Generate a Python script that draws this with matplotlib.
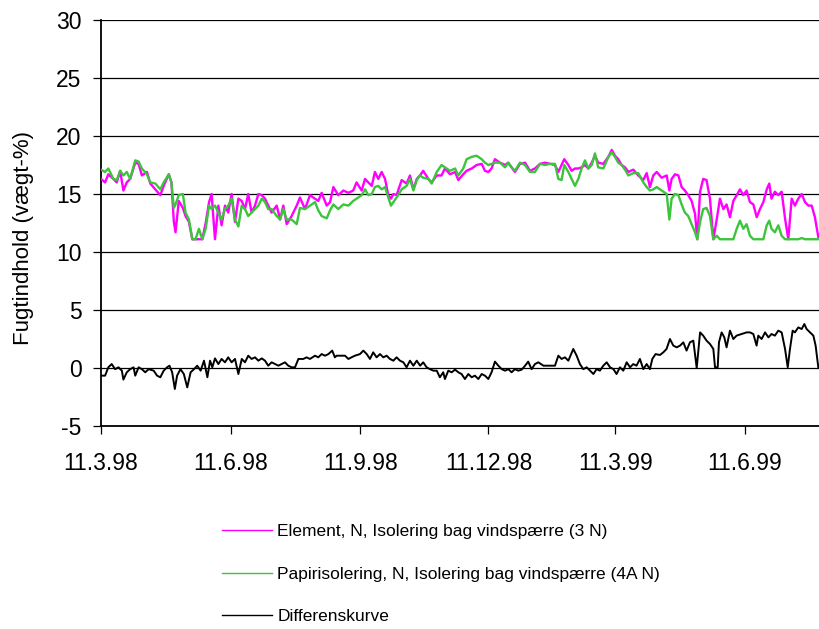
import numpy as np
import matplotlib
matplotlib.use("Agg")
import matplotlib.pyplot as plt
from matplotlib.lines import Line2D

plt.rcParams['font.family'] = ['Liberation Sans', 'DejaVu Sans']

# ---- data (days after 11.3.98) ----
days_mg = [0, 2.9, 5.2, 8.8, 11.2, 13.6, 15.9, 18.3, 20.7, 24.3, 26.7, 29.0, 32.6, 35.0, 38.6, 42.1,
           44.5, 48.1, 50.0, 51.7, 52.9, 55.2, 58.1, 60.0, 62.4, 64.8, 67.1, 69.5, 71.9, 74.3, 76.7,
           78.5, 80.9, 83.3, 85.6, 88.0, 90.3, 92.7, 95.1, 97.5, 99.9, 102.2, 104.5, 106.9, 109.3,
           111.7, 114.1, 116.4, 118.7, 121.1, 124.7, 127.1, 129.4, 131.8, 135.3, 138.9, 141.2, 144.8,
           148.3, 151.9, 154.2, 156.6, 160.2, 162.6, 164.9, 168.4, 172.0, 175.6, 179.0, 181.4, 185.0,
           187.4, 189.7, 192.2, 194.4, 196.8, 199.2, 201.6, 203.9, 205.8, 207.5, 209.8, 213.4, 216.9,
           219.3, 221.7, 224.1, 226.4, 228.7, 232.3, 234.7, 238.3, 241.7, 244.1, 247.7, 251.3, 253.6,
           257.1, 259.5, 263.1, 266.6, 270.2, 272.5, 274.9, 277.2, 279.6, 283.2, 286.8, 289.0, 291.4,
           293.8, 297.4, 301.0, 304.4, 308.0, 311.6, 315.1, 318.6, 322.2, 324.6, 326.9, 328.8, 331.7,
           334.0, 336.4, 338.8, 341.1, 343.5, 345.9, 348.3, 350.6, 352.9, 356.5, 360.1, 362.5, 364.8,
           367.1, 369.5, 371.9, 374.3, 377.8, 381.3, 384.9, 387.3, 389.6, 392.0, 394.4, 397.9, 401.5,
           403.4, 405.0, 407.4, 409.8, 412.1, 414.4, 416.8, 419.2, 421.6, 423.2, 425.2, 427.4, 429.8,
           432.2, 434.6, 437.0, 439.3, 441.7, 444.0, 446.4, 448.8, 451.2, 453.5, 455.9, 458.2, 460.6,
           463.0, 465.4, 467.7, 470.1, 472.5, 474.3, 475.9, 478.3, 480.7, 483.1, 485.5, 487.8, 490.2,
           492.5, 494.9, 497.3, 499.7, 502.0, 504.4, 506.7, 509.1]

element = [16.3, 16.0, 16.7, 16.3, 16.0, 17.0, 15.3, 16.0, 16.3, 17.7, 17.6, 16.6, 16.9, 15.9, 15.4, 14.9,
           15.7, 16.7, 16.0, 12.6, 11.7, 14.4, 13.8, 13.1, 12.6, 11.1, 11.1, 11.1, 11.1, 12.5, 14.3,
           15.0, 11.1, 14.0, 12.3, 14.0, 13.4, 15.0, 12.6, 14.6, 14.4, 13.7, 15.0, 13.4, 14.0,
           15.0, 14.9, 14.6, 14.0, 13.4, 14.0, 12.8, 14.0, 12.4, 13.1, 14.0, 14.7, 13.7,
           14.9, 14.6, 14.4, 15.1, 14.0, 14.3, 15.6, 14.9, 15.3, 15.1, 15.3, 16.0, 15.3,
           16.3, 16.0, 15.7, 16.9, 16.3, 16.9, 16.3, 14.9, 14.6, 15.0, 14.9, 16.2, 15.9,
           16.6, 15.4, 16.3, 16.6, 17.0, 16.3, 16.0, 16.6, 16.6, 17.2, 16.7, 16.9, 16.2,
           16.7, 17.0, 17.2, 17.5, 17.6, 17.0, 16.9, 17.2, 18.0, 17.7, 17.5, 17.7, 17.3,
           16.9, 17.6, 17.7, 17.0, 17.2, 17.6, 17.7, 17.6, 17.5, 16.9, 17.5, 18.0, 17.5,
           17.0, 17.2, 17.2, 17.3, 17.5, 17.2, 17.7, 18.3, 17.7, 17.6, 18.2, 18.8, 18.3,
           18.0, 17.5, 17.3, 16.9, 17.1, 16.6, 16.2, 16.8, 15.6, 16.6, 16.9, 16.4, 16.6,
           15.3, 16.3, 16.7, 16.6, 15.6, 15.3, 14.9, 14.4, 13.3, 11.1, 15.2, 16.3, 16.2,
           14.6, 11.1, 12.8, 14.6, 13.7, 14.1, 13.0, 14.4, 14.9, 15.4, 14.9, 15.3, 14.3,
           14.1, 13.0, 13.7, 14.3, 15.4, 15.9, 14.6, 15.2, 14.9, 15.2, 12.9, 11.1, 14.6,
           14.0, 14.6, 15.0, 14.3, 14.0, 14.0, 13.0, 11.3]

papir = [17.1, 16.9, 17.2, 16.3, 16.2, 17.0, 16.6, 16.9, 16.3, 17.9, 17.8, 17.2, 16.7, 16.0, 15.9, 15.4,
         16.0, 16.7, 16.0, 13.8, 14.1, 14.9, 15.0, 13.4, 12.8, 11.1, 11.1, 12.0, 11.1, 12.0, 14.0,
         13.7, 14.0, 13.4, 12.8, 13.7, 14.0, 14.6, 12.8, 12.2, 14.0, 13.7, 13.1, 13.4, 13.7,
         14.0, 14.6, 14.3, 13.7, 13.7, 13.1, 12.8, 13.7, 12.8, 12.8, 12.4, 13.8, 13.7,
         14.0, 14.3, 13.6, 13.1, 12.9, 13.6, 14.1, 13.7, 14.1, 14.0, 14.4, 14.6, 14.9,
         15.4, 14.9, 15.0, 15.6, 15.7, 15.4, 15.6, 14.7, 14.0, 14.3, 14.7, 15.4, 15.7,
         16.3, 15.3, 16.2, 16.6, 16.4, 16.3, 15.9, 16.9, 17.5, 17.3, 17.0, 17.2, 16.6,
         17.2, 18.0, 18.2, 18.3, 18.0, 17.7, 17.5, 17.6, 17.7, 17.7, 17.3, 17.7, 17.3,
         17.0, 17.7, 17.5, 16.9, 16.9, 17.6, 17.5, 17.6, 17.6, 16.3, 16.2, 17.5, 16.9,
         16.3, 15.7, 16.3, 17.2, 17.9, 17.2, 17.5, 18.5, 17.3, 17.2, 18.2, 18.6, 18.2,
         17.7, 17.5, 17.1, 16.6, 16.8, 16.8, 16.0, 15.6, 15.3, 15.4, 15.6, 15.3, 15.0,
         12.8, 14.6, 15.0, 14.9, 14.1, 13.4, 13.1, 12.4, 11.7, 11.1, 12.6, 13.7, 13.8,
         13.1, 11.1, 11.4, 11.1, 11.1, 11.1, 11.1, 11.1, 12.0, 12.7, 12.0, 12.4, 11.4,
         11.1, 11.1, 11.1, 11.1, 12.3, 12.7, 12.0, 11.7, 12.3, 11.4, 11.1, 11.1, 11.1,
         11.1, 11.1, 11.2, 11.1, 11.1, 11.1, 11.1, 11.1]

days_d = [0.5, 2.9, 5.2, 7.6, 10.0, 12.4, 14.8, 15.9, 18.3, 20.7, 23.1, 24.3, 26.7, 29.0, 31.4, 33.8,
          37.4, 39.8, 42.1, 44.5, 46.9, 48.6, 50.5, 52.4, 54.0, 56.4, 58.8, 61.2, 63.6, 66.0, 68.3,
          70.7, 73.1, 75.5, 77.4, 79.0, 80.9, 83.3, 85.6, 88.0, 90.3, 92.7, 95.1, 97.5, 99.9, 102.2,
          104.5, 106.9, 109.3, 111.7, 114.1, 116.4, 118.7, 121.1, 123.5, 125.9, 128.2, 130.6, 132.9,
          135.3, 137.7, 140.1, 143.6, 145.9, 148.3, 151.9, 154.2, 156.6, 159.0, 161.4, 164.1, 166.0,
          167.2, 169.6, 173.2, 175.6, 177.8, 180.2, 183.8, 186.2, 188.6, 190.9, 193.2, 195.6, 198.0,
          200.4, 202.7, 205.1, 207.5, 209.8, 212.2, 214.6, 216.9, 219.3, 221.7, 224.1, 226.5, 228.7,
          231.1, 233.5, 235.9, 238.3, 240.5, 242.9, 244.1, 246.5, 248.9, 251.3, 253.6, 255.9, 258.3,
          260.7, 263.1, 265.4, 267.8, 270.2, 272.5, 274.9, 277.2, 279.6, 282.0, 284.4, 286.8, 289.1,
          291.4, 293.8, 296.2, 298.6, 301.0, 303.2, 305.6, 308.0, 310.4, 314.0, 318.6, 322.2, 324.6,
          326.9, 329.3, 331.7, 335.2, 337.6, 339.9, 342.3, 344.7, 347.1, 349.5, 351.7, 354.1, 356.5,
          358.9, 361.3, 363.7, 365.9, 368.3, 370.7, 373.1, 375.5, 377.8, 380.1, 382.5, 384.9, 387.3,
          389.6, 391.3, 393.6, 396.7, 399.1, 401.4, 403.8, 406.2, 408.6, 411.0, 413.3, 415.6, 418.0,
          420.4, 422.8, 425.2, 427.4, 429.8, 432.2, 434.6, 435.8, 437.7, 438.6, 440.5, 442.4, 444.0,
          446.4, 448.8, 451.1, 454.7, 458.2, 460.6, 463.0, 465.3, 466.5, 468.9, 471.3, 473.7, 475.9,
          478.3, 480.7, 483.1, 485.5, 487.4, 489.0, 490.9, 492.5, 494.9, 497.3, 499.2, 500.8, 503.2,
          505.6, 507.2, 509.1]

differens = [-0.66, -0.66, 0.06, 0.34, -0.10, 0.06, -0.23, -1.0, -0.37, -0.10, 0.06, -0.66, 0.06, -0.10,
             -0.37, -0.10, -0.23, -0.66, -0.80, -0.23, 0.06, 0.20, -0.37, -1.81, -0.66, -0.10, -0.52,
             -1.67, -0.37, -0.10, 0.20, -0.23, 0.63, -0.80, 0.63, 0.06, 0.83, 0.34, 0.78, 0.49, 0.92,
             0.49, 0.78, -0.52, 0.78, 0.49, 1.06, 0.78, 0.92, 0.63, 0.83, 0.63, 0.20, 0.49, 0.34, 0.20,
             0.34, 0.49, 0.20, 0.06, 0.06, 0.78, 0.78, 0.92, 0.78, 1.06, 0.92, 1.20, 1.06, 1.20, 1.50,
             0.92, 1.06, 1.06, 1.06, 0.78, 0.92, 1.06, 1.20, 1.50, 1.20, 0.78, 1.35, 0.92, 1.20, 0.92,
             1.06, 0.78, 0.63, 0.92, 0.63, 0.49, 0.06, 0.63, 0.20, 0.63, 0.20, 0.49, 0.06, -0.10, -0.23,
             -0.23, -0.80, -0.37, -0.95, -0.23, -0.37, -0.14, -0.37, -0.52, -0.95, -0.52, -0.80, -0.66,
             -0.95, -0.52, -0.66, -0.95, -0.37, 0.55, 0.20, -0.10, -0.23, -0.10, -0.37, -0.10, -0.23,
             -0.14, 0.20, 0.55, -0.10, 0.34, 0.49, 0.20, 0.20, 0.20, 1.06, 0.78, 0.92, 0.63, 1.64,
             1.06, 0.34, -0.10, 0.06, -0.23, -0.52, -0.10, -0.23, 0.20, 0.49, 0.06, -0.10, -0.52, 0.06,
             -0.23, 0.49, 0.06, 0.34, 0.20, 0.78, -0.10, 0.34, -0.10, 0.78, 1.20, 1.12, 1.35, 1.64,
             2.50, 1.93, 1.78, 1.93, 2.21, 1.50, 2.21, 2.36, 0.00, 3.07, 2.79, 2.36, 2.07, 1.64, 0.06,
             0.06, 2.21, 3.07, 2.64, 1.78, 3.22, 2.50, 2.79, 2.93, 3.07, 3.07, 2.93, 1.93, 2.79, 2.50,
             3.07, 2.64, 2.93, 2.79, 3.22, 3.07, 1.64, 0.06, 1.64, 3.22, 3.07, 3.50, 3.36, 3.79, 3.36,
             3.07, 2.79, 1.93, 0.06]

start_date = '1998-03-11'
end_day = 509.6
tick_dates = ['1998-03-11', '1998-06-11', '1998-09-11', '1998-12-11', '1999-03-11', '1999-06-11']
tick_labels = ['11.3.98', '11.6.98', '11.9.98', '11.12.98', '11.3.99', '11.6.99']
y_ticks = [-5, 0, 5, 10, 15, 20, 25, 30]
labels = ['Element, N, Isolering bag vindspærre (3 N)',
          'Papirisolering, N, Isolering bag vindspærre (4A N)',
          'Differenskurve']
colors = ['#FF00FF', '#3CC43C', '#000000']

# ---- figure ----
W, H = 819, 629
fig = plt.figure(figsize=(W / 100, H / 100), dpi=100)
ax = fig.add_axes([101 / W, 1 - 426 / H, (W - 101) / W, (426 - 20) / H])

ax.plot(days_mg, element, color=colors[0], lw=1.7, zorder=3)
ax.plot(days_mg, papir, color=colors[1], lw=1.7, zorder=4)
ax.plot(days_d, differens, color=colors[2], lw=1.4, zorder=5)

base = np.datetime64(start_date, 'D')
tick_pos = (np.array(tick_dates, dtype='datetime64[D]') - base).astype(float)
ax.set_xlim(0, end_day)
ax.set_ylim(-5, 30)
ax.set_xticks(tick_pos)
ax.set_xticklabels(tick_labels)
ax.set_yticks(y_ticks)
ax.set_yticklabels([str(v) for v in y_ticks])

for v in y_ticks[1:]:
    ax.axhline(v, color='black', lw=0.9, zorder=1)

for s in ['top', 'right']:
    ax.spines[s].set_visible(False)
for s in ['left', 'bottom']:
    ax.spines[s].set_linewidth(1.3)
    ax.spines[s].set_color('black')

ax.tick_params(axis='y', direction='out', length=6, width=0.9, pad=8, labelsize=16.5)
ax.tick_params(axis='x', direction='out', length=6, width=0.9, pad=13, labelsize=16.5)

fig.text(24 / W, 1 - 237.5 / H, 'Fugtindhold (vægt-%)', rotation=90,
         ha='center', va='center', fontsize=16)

handles = [Line2D([], [], color=c, lw=1.0) for c in colors]
fig.legend(handles, labels, loc='center left', bbox_to_anchor=(222 / W, 1 - 574 / H),
           frameon=False, fontsize=12.5, handlelength=2.88, handletextpad=0.3,
           labelspacing=1.57, borderpad=0, borderaxespad=0)

fig.savefig('out.png', dpi=100)
